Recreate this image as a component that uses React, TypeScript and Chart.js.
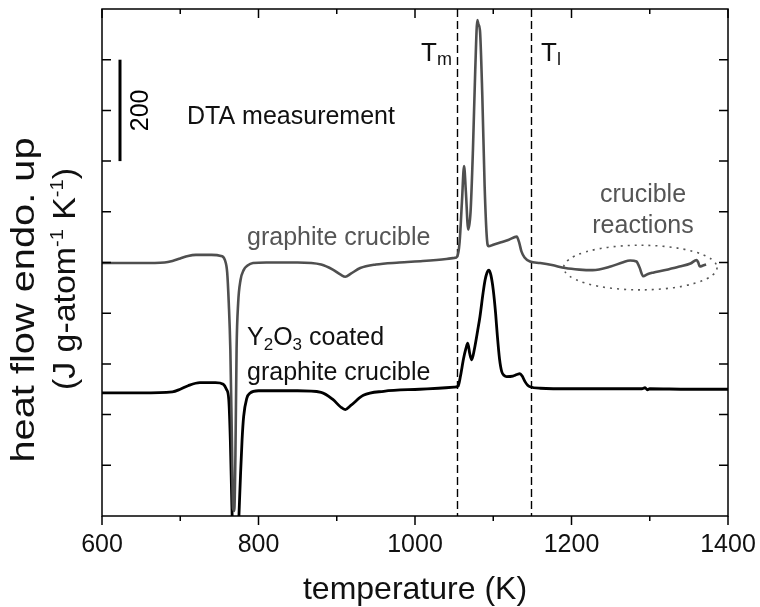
import React, { useEffect, useRef } from 'react';
import { Chart, registerables } from 'chart.js';

Chart.register(...registerables);

const FONT = '"Liberation Sans", Arial, Helvetica, sans-serif';

// Graphite crucible (grey trace)
const tempGraphite = [600, 650, 680, 690, 700, 710, 720, 740, 752, 757, 760, 762, 764, 766, 767.5, 769, 770.5, 772, 774, 777, 781, 786, 793, 810, 850, 880, 895, 905, 911, 918, 930, 950, 980, 1010, 1040, 1050, 1054, 1057, 1060, 1062.7, 1065, 1068, 1071, 1074, 1077, 1079.7, 1081, 1083, 1086, 1089, 1092, 1094, 1100, 1110, 1120, 1130, 1133, 1136, 1140, 1147, 1160, 1175, 1192, 1210, 1227, 1250, 1265, 1275, 1283, 1287, 1291.6, 1297, 1304, 1320, 1338, 1352, 1360, 1362, 1364, 1368, 1372];
const heatGraphite = [499, 499, 500, 503, 508, 513, 515, 515, 513, 505, 480, 420, 330, 150, 15, 10, 120, 330, 420, 465, 485, 494, 499, 500, 500, 496, 486, 476, 472, 478, 489, 496, 500, 503, 507, 509, 512, 540, 620, 690, 640, 565, 600, 720, 880, 978, 970, 958, 830, 650, 545, 532, 535, 540, 545, 551, 540, 522, 510, 502, 499, 495, 489, 486, 485, 492, 500, 504, 502, 490, 473, 477, 480, 485, 492, 498, 505, 500, 492, 494, 496];

// Y2O3 coated graphite crucible (black trace)
const tempCoated = [600, 650, 690, 700, 710, 725, 745, 755, 759, 762, 764, 766, 768, 771, 773, 775, 777, 779, 781, 785, 789, 800, 850, 880, 895, 905, 911, 918, 934, 960, 1006, 1030, 1050, 1055, 1058, 1062, 1065, 1067.4, 1070, 1072.5, 1076, 1080, 1083, 1087, 1089.5, 1092, 1094.6, 1097, 1100, 1103, 1105, 1108, 1110.8, 1114, 1117, 1125, 1130, 1134, 1137, 1140.6, 1144, 1147, 1160, 1200, 1250, 1290, 1294, 1297, 1300, 1350, 1400];
const heatCoated = [243, 243, 245, 250, 257, 263, 263, 260, 250, 230, 150, 20, -80, -100, -80, 0, 80, 150, 196, 232, 242, 247, 247, 244, 230, 215, 210, 218, 238, 246, 250, 252, 254, 256, 275, 310, 330, 341, 320, 308, 330, 365, 393, 440, 465, 480, 485, 475, 446, 400, 360, 310, 285, 277, 275, 276, 279, 281, 276, 265, 258, 255, 252, 251, 251, 251, 253, 249, 251, 250, 250];

const xTickValues = [600, 800, 1000, 1200, 1400];
const xMinorValues = [700, 900, 1100, 1300];
const yTickValues = [100, 200, 300, 400, 500, 600, 700, 800, 900];
const tMelt = 1054;
const tLiquidus = 1148;
const scaleBarX = 623;
const scaleBarFrom = 700;
const scaleBarTo = 900;
const scaleBarLabel = '200';
const reactionCenter = { x: 1288, y: 490 };
const reactionRadius = { x: 98, y: 44 };

type Run = { t: string; size: number; dy?: number };

function runsWidth(ctx: CanvasRenderingContext2D, runs: Run[]) {
  let total = 0;
  runs.forEach((r) => {
    ctx.font = `${r.size}px ${FONT}`;
    total += ctx.measureText(r.t).width;
  });
  return total;
}

function drawRuns(ctx: CanvasRenderingContext2D, x: number, y: number, runs: Run[], align: 'left' | 'center', color: string) {
  const total = runsWidth(ctx, runs);
  let cx = align === 'center' ? x - total / 2 : x;
  ctx.fillStyle = color;
  ctx.textAlign = 'left';
  ctx.textBaseline = 'alphabetic';
  runs.forEach((r) => {
    ctx.font = `${r.size}px ${FONT}`;
    ctx.fillText(r.t, cx, y + (r.dy || 0));
    cx += ctx.measureText(r.t).width;
  });
}

// rotated label stretched along its reading direction to a given length
function drawVertical(ctx: CanvasRenderingContext2D, x: number, y: number, runs: Run[], length: number, color: string) {
  ctx.save();
  ctx.translate(x, y);
  ctx.rotate(-Math.PI / 2);
  const w = runsWidth(ctx, runs);
  ctx.scale(length / w, 1);
  drawRuns(ctx, 0, 0, runs, 'center', color);
  ctx.restore();
}

const decorPlugin = {
  id: 'decor',
  beforeDatasetsDraw(chart: any) {
    const { ctx, chartArea, scales } = chart;
    const xs = scales.x;
    ctx.save();
    ctx.strokeStyle = '#000';
    ctx.lineWidth = 1.4;
    ctx.setLineDash([8, 4]);
    [tMelt, tLiquidus].forEach((t) => {
      const px = Math.round(xs.getPixelForValue(t)) + 0.5;
      ctx.beginPath();
      ctx.moveTo(px, chartArea.top);
      ctx.lineTo(px, chartArea.bottom);
      ctx.stroke();
    });
    ctx.restore();
  },
  afterDatasetsDraw(chart: any) {
    const { ctx, chartArea, scales } = chart;
    const xs = scales.x;
    const ys = scales.y;
    const { left, right, top, bottom } = chartArea;
    ctx.save();
    ctx.strokeStyle = '#000';
    ctx.lineWidth = 1.5;
    ctx.setLineDash([]);
    ctx.strokeRect(left, top, right - left, bottom - top);
    ctx.beginPath();
    xTickValues.forEach((v) => {
      const px = xs.getPixelForValue(v);
      ctx.moveTo(px, bottom);
      ctx.lineTo(px, bottom + 9);
      ctx.moveTo(px, top);
      ctx.lineTo(px, top + 9);
    });
    xMinorValues.forEach((v) => {
      const px = xs.getPixelForValue(v);
      ctx.moveTo(px, bottom);
      ctx.lineTo(px, bottom + 5);
      ctx.moveTo(px, top);
      ctx.lineTo(px, top + 5);
    });
    yTickValues.forEach((v) => {
      const py = ys.getPixelForValue(v);
      ctx.moveTo(left, py);
      ctx.lineTo(left + 9, py);
      ctx.moveTo(right, py);
      ctx.lineTo(right - 9, py);
    });
    ctx.stroke();

    // scale bar
    const sbx = xs.getPixelForValue(scaleBarX);
    ctx.lineWidth = 3;
    ctx.beginPath();
    ctx.moveTo(sbx, ys.getPixelForValue(scaleBarFrom));
    ctx.lineTo(sbx, ys.getPixelForValue(scaleBarTo));
    ctx.stroke();
    ctx.save();
    ctx.translate(sbx + 28, (ys.getPixelForValue(scaleBarFrom) + ys.getPixelForValue(scaleBarTo)) / 2);
    ctx.rotate(-Math.PI / 2);
    drawRuns(ctx, 0, 0, [{ t: scaleBarLabel, size: 25 }], 'center', '#000');
    ctx.restore();

    // ellipse around crucible reactions
    ctx.strokeStyle = '#555';
    ctx.lineWidth = 1.6;
    ctx.setLineDash([2, 5]);
    ctx.beginPath();
    const ecx = xs.getPixelForValue(reactionCenter.x);
    const ecy = ys.getPixelForValue(reactionCenter.y);
    const erx = Math.abs(xs.getPixelForValue(reactionCenter.x + reactionRadius.x) - ecx);
    const ery = Math.abs(ys.getPixelForValue(reactionCenter.y + reactionRadius.y) - ecy);
    ctx.ellipse(ecx, ecy, erx, ery, 0, 0, Math.PI * 2);
    ctx.stroke();
    ctx.setLineDash([]);

    drawRuns(ctx, 187, 124, [{ t: 'DTA measurement', size: 25 }], 'left', '#111');
    drawRuns(ctx, 247, 245, [{ t: 'graphite crucible', size: 25 }], 'left', '#555');
    drawRuns(ctx, 247, 345, [
      { t: 'Y', size: 25 },
      { t: '2', size: 17, dy: 5 },
      { t: 'O', size: 25 },
      { t: '3', size: 17, dy: 5 },
      { t: ' coated', size: 25 },
    ], 'left', '#111');
    drawRuns(ctx, 247, 380, [{ t: 'graphite crucible', size: 25 }], 'left', '#111');
    drawRuns(ctx, 643, 202, [{ t: 'crucible', size: 25 }], 'center', '#555');
    drawRuns(ctx, 643, 233, [{ t: 'reactions', size: 25 }], 'center', '#555');
    drawRuns(ctx, 421, 61, [{ t: 'T', size: 26 }, { t: 'm', size: 18, dy: 4 }], 'left', '#111');
    drawRuns(ctx, 541, 61, [{ t: 'T', size: 26 }, { t: 'l', size: 18, dy: 4 }], 'left', '#111');

    ctx.restore();
  },
  afterDraw(chart: any) {
    const { ctx, chartArea } = chart;
    ctx.save();
    const cx = (chartArea.left + chartArea.right) / 2;
    drawRuns(ctx, cx, 599, [{ t: 'temperature (K)', size: 32 }], 'center', '#111');
    drawVertical(ctx, 34, 300, [{ t: 'heat flow endo. up', size: 33 }], 325, '#111');
    drawVertical(ctx, 75, 279, [
      { t: '(J g-atom', size: 32 },
      { t: '-1', size: 19, dy: -12 },
      { t: ' K', size: 32 },
      { t: '-1', size: 19, dy: -12 },
      { t: ')', size: 32 },
    ], 222, '#111');
    ctx.restore();
  },
};

export default function App() {
  const canvasRef = useRef<HTMLCanvasElement | null>(null);

  useEffect(() => {
    document.body.style.margin = '0';
    const canvas = canvasRef.current;
    if (!canvas) return;
    const chart = new Chart(canvas, {
      type: 'line',
      data: {
        datasets: [
          {
            label: 'graphite crucible',
            data: tempGraphite.map((t, i) => ({ x: t, y: heatGraphite[i] })),
            borderColor: '#4f4f4f',
            borderWidth: 2.6,
            pointRadius: 0,
            cubicInterpolationMode: 'monotone',
            clip: 0,
          },
          {
            label: 'Y2O3 coated graphite crucible',
            data: tempCoated.map((t, i) => ({ x: t, y: heatCoated[i] })),
            borderColor: '#000',
            borderWidth: 2.8,
            pointRadius: 0,
            cubicInterpolationMode: 'monotone',
            clip: 0,
          },
        ],
      },
      options: {
        responsive: false,
        maintainAspectRatio: false,
        animation: false,
        layout: { padding: { left: 0, right: 32, top: 9, bottom: 0 } },
        plugins: { legend: { display: false }, tooltip: { enabled: false } },
        scales: {
          x: {
            type: 'linear',
            min: 600,
            max: 1400,
            afterFit: (s: any) => { s.height = 91; s.paddingLeft = 0; s.paddingRight = 0; },
            afterBuildTicks: (s: any) => { s.ticks = xTickValues.map((v) => ({ value: v })); },
            ticks: { font: { size: 25, family: FONT }, color: '#111', padding: 14, maxRotation: 0, autoSkip: false, callback: (v: any) => String(v) },
            grid: { display: false, drawTicks: false },
            border: { display: false },
          },
          y: {
            type: 'linear',
            min: 0,
            max: 1000,
            afterFit: (s: any) => { s.width = 102; s.paddingTop = 0; s.paddingBottom = 0; },
            ticks: { display: false },
            grid: { display: false, drawTicks: false },
            border: { display: false },
          },
        },
      } as any,
      plugins: [decorPlugin],
    });
    return () => chart.destroy();
  }, []);

  return (
    <div style={{ position: 'fixed', left: 0, top: 0, width: 760, height: 607, background: '#fff' }}>
      <canvas ref={canvasRef} width={760} height={607} style={{ display: 'block' }} />
    </div>
  );
}
